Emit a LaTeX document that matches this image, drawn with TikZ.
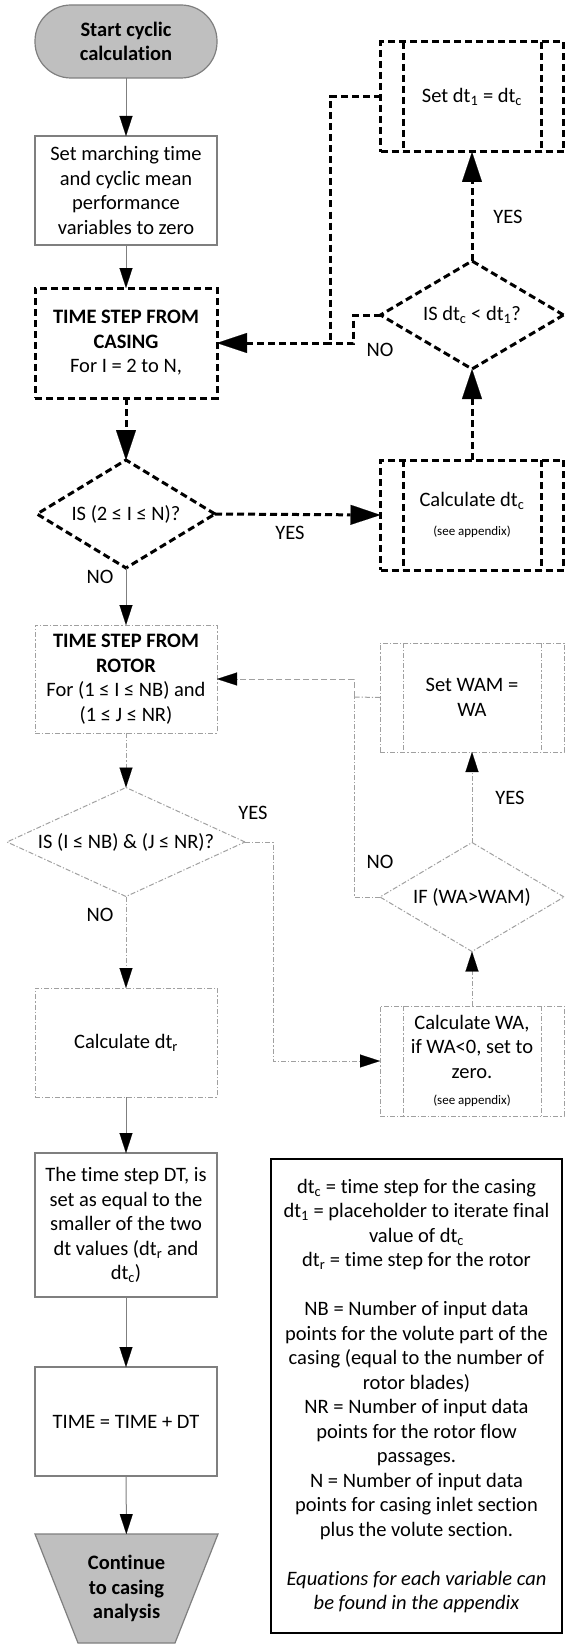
\documentclass[tikz,border=0pt]{standalone}
\usepackage{fontspec}
\setmainfont{Carlito}[Ligatures=NoCommon]
\usetikzlibrary{arrows.meta,shapes.geometric,backgrounds}
\definecolor{lgray}{HTML}{7F7F7F}
\definecolor{dgray}{HTML}{A0A0A0}
\definecolor{fillg}{HTML}{BFBFBF}
\tikzset{
 txt/.style={font=\fontsize{20.5}{24.5}\selectfont, align=center, inner sep=0pt, outer sep=0pt, text=black},
 sbox/.style={txt, rectangle, draw=lgray, line width=1.2pt, minimum width=182pt, minimum height=109pt},
 kbox/.style={txt, rectangle, draw=black, line width=3pt, dash pattern=on 7pt off 4pt, minimum width=182pt, minimum height=110pt},
 dbox/.style={txt, rectangle, draw=dgray, line width=1pt, dash pattern=on 5pt off 2pt on 1.2pt off 2pt, minimum width=182pt, minimum height=109pt},
 kdia/.style={txt, diamond, aspect=2, draw=black, line width=3pt, dash pattern=on 7pt off 4pt},
 ddia/.style={txt, diamond, aspect=2, draw=dgray, line width=1pt, dash pattern=on 5pt off 2pt on 1.2pt off 2pt},
 sarrow/.style={draw=lgray, line width=1pt, -{Triangle[length=20pt,width=13pt,color=black,line width=0.1pt]}},
 karrow/.style={draw=black, line width=3pt, dash pattern=on 7pt off 4pt, -{Triangle[length=30pt,width=20pt,line width=0.1pt]}},
 kline/.style={draw=black, line width=3pt, dash pattern=on 7pt off 4pt},
 darrow/.style={draw=dgray, line width=1pt, dash pattern=on 5pt off 2pt on 1.2pt off 2pt, -{Triangle[length=20pt,width=13pt,color=black,line width=0.1pt]}},
 dline/.style={draw=dgray, line width=1pt, dash pattern=on 5pt off 2pt on 1.2pt off 2pt},
 dashline/.style={draw=dgray, line width=1pt, dash pattern=on 6pt off 3pt},
}
\begin{document}
\begin{tikzpicture}[x=1pt,y=-1pt]
\begin{scope}[on background layer]
\fill[white] (0,0) rectangle (567,1648);
\end{scope}
\useasboundingbox (0,0) rectangle (567,1648);

% left column
\node[txt, font=\fontsize{20.5}{24.5}\selectfont\bfseries, draw=lgray, fill=fillg, line width=1.2pt, rounded corners=36pt, minimum width=182pt, minimum height=73pt] (start) at (126,41.5) {Start cyclic\\calculation};
\node[sbox] (setm) at (126,190.5) {Set marching time\\and cyclic mean\\performance\\variables to zero};
\node[kbox] (casing) at (126,343) {\textbf{TIME STEP FROM}\\\textbf{CASING}\\For I = 2 to N,};
\node[kdia, minimum width=178pt, minimum height=108pt] (d1) at (126,514) {IS (2 ≤ I ≤ N)?};
\node[dbox, minimum height=108pt] (rotor) at (126,679) {\textbf{TIME STEP FROM}\\\textbf{ROTOR}\\For (1 ≤ I ≤ NB) and\\(1 ≤ J ≤ NR)};
\node[ddia, minimum width=238pt, minimum height=109pt] (d3) at (126,842) {IS (I ≤ NB) \& (J ≤ NR)?};
\node[dbox] (cdtr) at (126,1042.5) {Calculate dt\textsubscript{r}};
\node[sbox, minimum height=144pt] (dtbox) at (126,1225) {The time step DT, is\\set as equal to the\\smaller of the two\\dt values (dt\textsubscript{r} and\\dt\textsubscript{c})};
\node[sbox] (timebox) at (126,1421.5) {TIME = TIME + DT};
\node[txt, font=\fontsize{20.5}{24.5}\selectfont\bfseries, minimum width=183pt, minimum height=109pt] (fin) at (126.5,1588.5) {Continue\\to casing\\analysis};
\begin{scope}[on background layer]
\filldraw[fill=fillg, draw=lgray, line width=1.2pt] (fin.north west) -- (fin.north east) -- ([xshift=-43pt]fin.south east) -- ([xshift=43pt]fin.south west) -- cycle;
\end{scope}

% right column, casing loop
\node[kbox, minimum width=183pt] (setdt) at (472,97) {Set dt\textsubscript{1} = dt\textsubscript{c}};
\draw[kline] ([xshift=23pt]setdt.north west) -- ([xshift=23pt]setdt.south west);
\draw[kline] ([xshift=-22pt]setdt.north east) -- ([xshift=-22pt]setdt.south east);
\node[kdia, minimum width=183pt, minimum height=108pt] (d2) at (472,315) {IS dt\textsubscript{c} < dt\textsubscript{1}?};
\node[kbox, minimum width=183pt] (cdtc) at (472,515) {Calculate dt\textsubscript{c}\\[4pt]{\fontsize{13}{15}\selectfont (see appendix)}};
\draw[kline] ([xshift=23pt]cdtc.north west) -- ([xshift=23pt]cdtc.south west);
\draw[kline] ([xshift=-22pt]cdtc.north east) -- ([xshift=-22pt]cdtc.south east);

% right column, rotor loop
\node[dbox, minimum width=184pt] (wam) at (472,697.5) {Set WAM =\\WA};
\draw[dline] ([xshift=23pt]wam.north west) -- ([xshift=23pt]wam.south west);
\draw[dline] ([xshift=-23pt]wam.north east) -- ([xshift=-23pt]wam.south east);
\node[ddia, minimum width=184pt, minimum height=109pt] (d4) at (472,897) {IF (WA>WAM)};
\node[dbox, minimum width=184pt, minimum height=110pt] (cwa) at (472,1061) {Calculate WA,\\if WA<0, set to\\zero.\\[2pt]{\fontsize{13}{15}\selectfont (see appendix)}};
\draw[dline] ([xshift=23pt]cwa.north west) -- ([xshift=23pt]cwa.south west);
\draw[dline] ([xshift=-23pt]cwa.north east) -- ([xshift=-23pt]cwa.south east);

% legend
\node[txt, draw=black, line width=1.5pt, minimum width=291pt, minimum height=474pt] (legend) at (416.5,1396) {dt\textsubscript{c} = time step for the casing\\dt\textsubscript{1} = placeholder to iterate final\\value of dt\textsubscript{c}\\dt\textsubscript{r} = time step for the rotor\\[24.5pt]NB = Number of input data\\points for the volute part of the\\casing (equal to the number of\\rotor blades)\\NR = Number of input data\\points for the rotor flow\\passages.\\N = Number of input data\\points for casing inlet section\\plus the volute section.\\[24.5pt]{\itshape Equations for each variable can}\\{\itshape be found in the appendix}};

% junction coordinates
\coordinate (j1) at (330,97);
\coordinate (j2) at (353,315);
\coordinate (j3) at (273,842);
\coordinate (j4) at (354,697);
\coordinate (j5) at (354,897);

% connectors
\draw[sarrow] (start) -- (setm);
\draw[sarrow] (setm) -- (casing);
\draw[karrow] (casing) -- (d1);
\draw[karrow] (d1.east) -- (cdtc.west);
\draw[sarrow] (d1.south) -- (rotor.north);
\draw[karrow] (cdtc.north) -- (d2.south);
\draw[karrow] (d2.north) -- (setdt.south);
\draw[karrow] (setdt.west) -- (j1) |- (casing.east);
\draw[kline] (d2.west) -- (j2) |- (j1 |- casing.east);
\draw[darrow] (rotor.south) -- (d3.north);
\draw[darrow] (d3.south) -- (cdtr.north);
\draw[darrow] (d3.east) -- (j3) |- (cwa.west);
\draw[sarrow] (cdtr) -- (dtbox);
\draw[sarrow] (dtbox) -- (timebox);
\draw[sarrow] (timebox) -- (fin);
\draw[darrow] (cwa.north) -- (d4.south);
\draw[darrow] (d4.north) -- (wam.south);
\draw[dline] (wam.west) -- (j4);
\draw[dline] (d4.west) -- (j5) -- (j4);
\draw[dashline, -{Triangle[length=20pt,width=13pt,color=black,line width=0.1pt]}] (j4) -- (j4 |- rotor.east) -- (rotor.east);

% labels
\node[txt] (l1) at (100,577) {NO};
\node[txt] (l2) at (290,533) {YES};
\node[txt] (l3) at (508,217) {YES};
\node[txt] (l4) at (380,350) {NO};
\node[txt] (l5) at (253,813) {YES};
\node[txt] (l6) at (100,915) {NO};
\node[txt] (l7) at (510,798) {YES};
\node[txt] (l8) at (380,862) {NO};
\end{tikzpicture}
\end{document}
